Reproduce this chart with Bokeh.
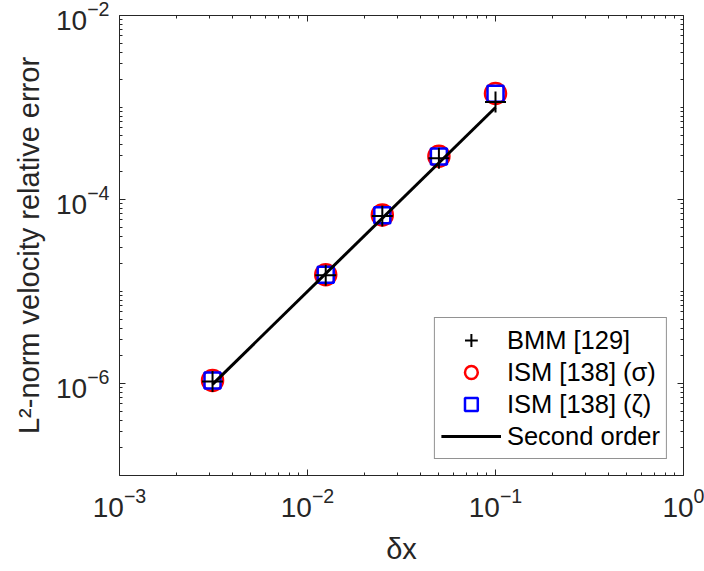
from bokeh.plotting import figure
from bokeh.models import LogAxis, FixedTicker, Range1d, Legend, LegendItem
from bokeh.embed import file_html
from bokeh.resources import INLINE

# ---- data ----
dx = [0.1, 0.05, 0.025, 0.0125, 0.003125]
bmm = [1.15e-3, 2.8e-4, 6.6e-5, 1.5e-5, 1.05e-6]
ism_sigma = [1.42e-3, 2.95e-4, 6.8e-5, 1.52e-5, 1.08e-6]
ism_zeta = [1.41e-3, 2.93e-4, 6.75e-5, 1.52e-5, 1.08e-6]
order_dx = [0.1, 0.003125]
order_err = [1.0e-3, 9.8e-7]

x_major = [1e-3, 1e-2, 1e-1, 1e0]
y_major = [1e-6, 1e-4, 1e-2]
x_minor = [k * 10.0 ** e for e in (-3, -2, -1) for k in range(2, 10)]
y_minor = [k * 10.0 ** e for e in range(-7, -2) for k in range(1, 10)
           if not (k == 1 and e % 2 == 0)]

FONT = "Liberation Sans"
DARK = "#262626"

p = figure(width=704, height=571, x_axis_type="log", y_axis_type="log",
           x_range=Range1d(1e-3, 1.0), y_range=Range1d(1e-7, 1e-2),
           output_backend="svg", toolbar_location=None,
           min_border_left=119, min_border_right=21,
           min_border_top=15, min_border_bottom=96)
p.grid.visible = False
p.outline_line_color = None
p.background_fill_color = "white"
p.border_fill_color = "white"


def style_axis(ax, ticks, minor, labels=True):
    ax.ticker = FixedTicker(ticks=ticks, minor_ticks=minor)
    ax.axis_line_color = DARK
    ax.axis_line_width = 1
    ax.major_tick_line_color = DARK
    ax.minor_tick_line_color = DARK
    ax.major_tick_in = 6
    ax.major_tick_out = 0
    ax.minor_tick_in = 3
    ax.minor_tick_out = 0
    if labels:
        ax.major_label_text_font = FONT
        ax.major_label_text_font_size = "28px"
        ax.major_label_text_color = DARK
        ax.axis_label_text_font = FONT
        ax.axis_label_text_font_size = "29px"
        ax.axis_label_text_font_style = "normal"
        ax.axis_label_text_color = DARK
    else:
        ax.major_label_text_font_size = "0px"
        ax.major_label_standoff = 0
        ax.major_label_text_alpha = 0


xa = p.xaxis[0]
ya = p.yaxis[0]
style_axis(xa, x_major, x_minor)
style_axis(ya, y_major, y_minor)
xa.axis_label = "δx"
ya.axis_label = "L²-norm velocity relative error"
xa.major_label_standoff = 12
xa.axis_label_standoff = 13
ya.major_label_standoff = 10
ya.axis_label_standoff = 8

top = LogAxis()
style_axis(top, x_major, x_minor, labels=False)
p.add_layout(top, "above")
right = LogAxis()
style_axis(right, y_major, y_minor, labels=False)
p.add_layout(right, "right")

r_sig = p.scatter(dx, ism_sigma, marker="circle", size=21, fill_color=None,
                  line_color="#ff0000", line_width=2.5)
r_zeta = p.scatter(dx, ism_zeta, marker="square", size=16, fill_color=None,
                   line_color="#0000ff", line_width=2.5)
r_bmm = p.scatter(dx, bmm, marker="cross", size=21, line_color="black",
                  line_width=2)
r_ord = p.line(order_dx, order_err, line_color="black", line_width=3)

legend = Legend(items=[
    LegendItem(label="BMM [129]", renderers=[r_bmm]),
    LegendItem(label="ISM [138] (σ)", renderers=[r_sig]),
    LegendItem(label="ISM [138] (ζ)", renderers=[r_zeta]),
    LegendItem(label="Second order", renderers=[r_ord]),
], location="bottom_right")
legend.label_text_font = FONT
legend.label_text_font_size = "25.5px"
legend.label_text_color = "black"
legend.border_line_color = DARK
legend.border_line_width = 1
legend.background_fill_color = "white"
legend.background_fill_alpha = 1
legend.glyph_width = 60
legend.glyph_height = 32
legend.label_height = 32
legend.spacing = 0
legend.padding = 6
legend.label_standoff = 6
legend.margin = 16
p.add_layout(legend)

open("out.html", "w").write(file_html(p, INLINE))
